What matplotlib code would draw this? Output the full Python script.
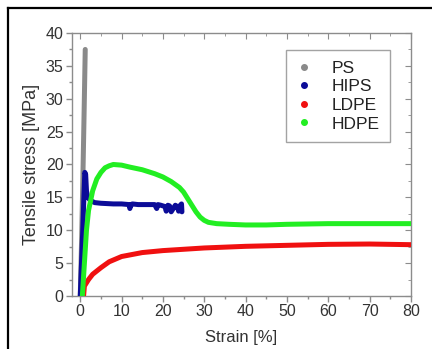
import matplotlib
matplotlib.use('Agg')
import matplotlib.pyplot as plt
from matplotlib.lines import Line2D
from matplotlib.ticker import MultipleLocator

plt.rcParams['font.family'] = ['Liberation Sans', 'DejaVu Sans']

# strain [%] / tensile stress [MPa]
ps_strain = [0, 0.3, 0.6, 0.9, 1.1, 1.2]
ps_stress = [0, 8, 17, 27, 34, 37.5]

hips_strain = [0, 0.3, 0.6, 0.9, 1.1, 1.3, 1.5, 1.8, 2.5, 3.5, 5, 8, 10, 11.8, 12.0, 12.3,
               12.6, 14, 16, 18, 18.5, 18.8, 19.5, 20.5, 20.8, 21.2, 21.6, 22.0, 23.0,
               23.5, 23.8, 24.2, 24.5, 24.6]
hips_stress = [0, 5, 10, 15.5, 18.8, 18.5, 16, 15, 14.5, 14.2, 14.1, 14.0, 14.0, 13.9, 13.3,
               13.9, 14.0, 13.9, 13.9, 13.9, 13.3, 13.9, 13.8, 13.6, 12.9, 13.8, 13.7, 12.8,
               13.8, 13.6, 12.9, 13.8, 14.0, 12.8]

ldpe_strain = [0.8, 1, 2, 3, 5, 7, 10, 15, 20, 25, 30, 40, 50, 60, 70, 80]
ldpe_stress = [0, 1.5, 2.5, 3.3, 4.3, 5.2, 6.0, 6.6, 6.9, 7.1, 7.3, 7.55, 7.7, 7.85, 7.9, 7.8]

hdpe_strain = [0.5, 1, 1.5, 2, 3, 4, 5, 6, 7, 8, 10, 12, 15, 18, 20, 22, 24, 25, 26, 27,
               28, 29, 30, 31, 33, 36, 40, 45, 50, 60, 70, 80]
hdpe_stress = [0, 5, 10, 13, 16, 17.8, 18.8, 19.5, 19.8, 20.0, 19.9, 19.6, 19.2, 18.6, 18.1,
               17.4, 16.5, 15.8, 14.8, 13.8, 12.8, 12.0, 11.5, 11.2, 11.0, 10.9, 10.8, 10.8,
               10.9, 11.0, 11.0, 11.0]

names = ['PS', 'HIPS', 'LDPE', 'HDPE']
colors = ['#8a8a8a', '#0c0c98', '#f01010', '#22ee22']


def mirror_ticks(ax):
    """
    Inward ticks on the top and right side, like the Origin default
    """
    top = ax.twiny()
    top.set_xlim(ax.get_xlim())
    top.xaxis.set_major_locator(MultipleLocator(10))
    top.xaxis.set_minor_locator(MultipleLocator(5))
    top.tick_params(which='both', direction='in', colors='#8c8c8c', labeltop=False)
    right = ax.twinx()
    right.set_ylim(ax.get_ylim())
    right.yaxis.set_major_locator(MultipleLocator(5))
    right.yaxis.set_minor_locator(MultipleLocator(2.5))
    right.tick_params(which='both', direction='in', colors='#8c8c8c', labelright=False)
    for t in (top, right):
        t.tick_params(which='major', length=4)
        t.tick_params(which='minor', length=2.5)
        for s in t.spines.values():
            s.set_visible(False)
    return right


def plot_curves():
    fig = plt.figure(figsize=(4.32, 3.49), dpi=100)
    ax = fig.add_axes([0.1667, 0.152, 0.7843, 0.7534])

    data = [(ps_strain, ps_stress), (hips_strain, hips_stress),
            (ldpe_strain, ldpe_stress), (hdpe_strain, hdpe_stress)]
    for i, (x, y) in enumerate(data):
        ax.plot(x, y, color=colors[i], lw=3.6, solid_capstyle='round',
                solid_joinstyle='round', zorder=2 + i)

    ax.set_xlim(-2, 80)
    ax.set_ylim(0, 40)
    ax.xaxis.set_major_locator(MultipleLocator(10))
    ax.xaxis.set_minor_locator(MultipleLocator(5))
    ax.yaxis.set_major_locator(MultipleLocator(5))
    ax.yaxis.set_minor_locator(MultipleLocator(2.5))

    for s in ax.spines.values():
        s.set_color('#8c8c8c')
        s.set_linewidth(1.0)
    ax.tick_params(which='both', colors='#8c8c8c', labelcolor='#333333', labelsize=11.5,
                   direction='out', top=False, right=False)
    ax.tick_params(which='major', length=4, width=1, pad=2)
    ax.tick_params(which='minor', length=2.5, width=1)

    right = mirror_ticks(ax)

    ax.set_xlabel('Strain [%]', fontsize=12, color='#333333', labelpad=8)
    ax.set_ylabel('Tensile stress [MPa]', fontsize=13, color='#333333', labelpad=4)

    handles = [Line2D([], [], ls='none', marker='o', ms=4, color=c) for c in colors]
    leg = right.legend(handles, names, loc='upper right', bbox_to_anchor=(0.938, 0.935),
                       frameon=True, fancybox=False, fontsize=12.5, handlelength=0.9,
                       handletextpad=1.1, labelspacing=0.2, borderpad=0.6,
                       borderaxespad=0)
    leg.get_frame().set_edgecolor('#8c8c8c')
    leg.get_frame().set_linewidth(1.0)
    for t in leg.get_texts():
        t.set_color('#222222')

    # page frame around the figure
    fig.add_artist(Line2D([8 / 432, 8 / 432], [0, 1 - 8 / 349], color='black', lw=1.6,
                          transform=fig.transFigure))
    fig.add_artist(Line2D([8 / 432, 1], [1 - 8 / 349, 1 - 8 / 349], color='black', lw=1.6,
                          transform=fig.transFigure))

    fig.savefig('out.png', dpi=100)


if __name__ == '__main__':
    plot_curves()
